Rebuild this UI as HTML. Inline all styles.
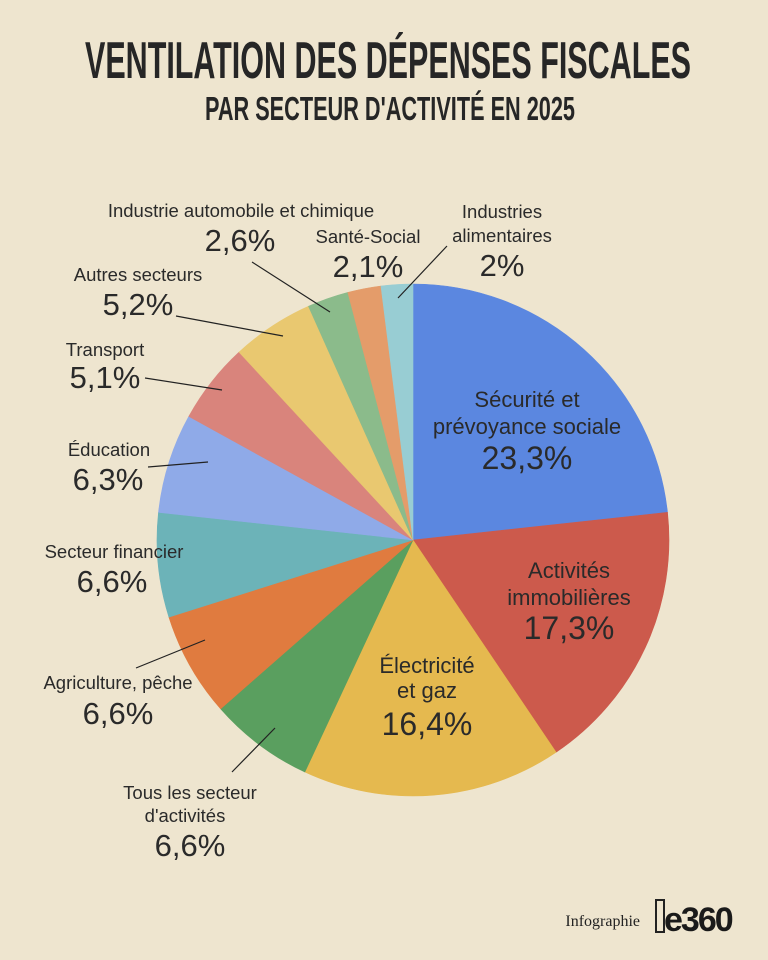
<!DOCTYPE html>
<html><head><meta charset="utf-8"><style>
body{margin:0;width:768px;height:960px;background:#eee5cf;overflow:hidden;font-family:"Liberation Sans",sans-serif;color:#222}
svg{position:absolute;left:0;top:0}
</style></head><body>
<svg width="768" height="960" viewBox="0 0 768 960" id="s">
<text x="388" y="78" text-anchor="middle" font-family="Liberation Sans Narrow, Liberation Sans, sans-serif" font-weight="bold" font-size="52" fill="#262626" textLength="606" lengthAdjust="spacingAndGlyphs">VENTILATION DES DÉPENSES FISCALES</text>
<text x="390" y="120" text-anchor="middle" font-family="Liberation Sans Narrow, Liberation Sans, sans-serif" font-weight="bold" font-size="33" fill="#262626" textLength="370" lengthAdjust="spacingAndGlyphs">PAR SECTEUR D'ACTIVITÉ EN 2025</text>
<g id="pie"></g>
<g stroke="#222" stroke-width="1.2">
<line x1="252" y1="262" x2="330" y2="312"/>
<line x1="398" y1="298" x2="447" y2="246"/>
<line x1="176" y1="316" x2="283" y2="336"/>
<line x1="145" y1="378" x2="222" y2="390"/>
<line x1="148" y1="467" x2="208" y2="462"/>
<line x1="136" y1="668" x2="205" y2="640"/>
<line x1="232" y1="772" x2="275" y2="728"/>
</g>
<g text-anchor="middle" fill="#2a2a2a" font-size="18.5">
<text x="241" y="217">Industrie automobile et chimique</text>
<text x="240" y="251" font-size="31">2,6%</text>
<text x="368" y="243">Santé-Social</text>
<text x="368" y="277" font-size="31">2,1%</text>
<text x="502" y="218">Industries</text>
<text x="502" y="242">alimentaires</text>
<text x="502" y="276" font-size="31">2%</text>
<text x="138" y="281">Autres secteurs</text>
<text x="138" y="315" font-size="31">5,2%</text>
<text x="105" y="356">Transport</text>
<text x="105" y="388" font-size="31">5,1%</text>
<text x="109" y="456">Éducation</text>
<text x="108" y="490" font-size="31">6,3%</text>
<text x="114" y="558">Secteur financier</text>
<text x="112" y="592" font-size="31">6,6%</text>
<text x="118" y="689">Agriculture, pêche</text>
<text x="118" y="724" font-size="31">6,6%</text>
<text x="190" y="799">Tous les secteur</text>
<text x="185" y="822">d'activités</text>
<text x="190" y="856" font-size="31">6,6%</text>
<text x="527" y="407" font-size="22">Sécurité et</text>
<text x="527" y="434" font-size="22">prévoyance sociale</text>
<text x="527" y="469" font-size="32">23,3%</text>
<text x="569" y="578" font-size="22">Activités</text>
<text x="569" y="605" font-size="22">immobilières</text>
<text x="569" y="639" font-size="32">17,3%</text>
<text x="427" y="673" font-size="22">Électricité</text>
<text x="427" y="698" font-size="22">et gaz</text>
<text x="427" y="735" font-size="32">16,4%</text>
</g>
<text x="640" y="926" text-anchor="end" font-family="Liberation Serif, serif" font-size="16" fill="#222">Infographie</text>
<rect x="656" y="900" width="8" height="32" fill="none" stroke="#222" stroke-width="2"/>
<text x="664" y="931" font-family="Liberation Sans, sans-serif" font-weight="bold" font-size="34" fill="#1a1a1a" letter-spacing="-2">e360</text>
</svg>
<script>
var d=[[23.3,"#5b87e0"],[17.3,"#cc5a4c"],[16.4,"#e5b94f"],[6.6,"#5a9f5f"],[6.6,"#e07b3f"],[6.6,"#6cb3b8"],[6.3,"#8faae8"],[5.1,"#d9847c"],[5.2,"#e9c870"],[2.6,"#8bbb8b"],[2.1,"#e49c6a"],[2,"#98cdd3"]];
var tot=0;d.forEach(function(e){tot+=e[0]});
var cx=413,cy=540,r=256,a=-Math.PI/2,h="";
d.forEach(function(e){var b=a+e[0]/tot*2*Math.PI;
var x1=cx+r*Math.cos(a),y1=cy+r*Math.sin(a),x2=cx+r*Math.cos(b),y2=cy+r*Math.sin(b);
h+='<path d="M'+cx+','+cy+'L'+x1+','+y1+'A'+r+','+r+' 0 '+((b-a)>Math.PI?1:0)+' 1 '+x2+','+y2+'Z" fill="'+e[1]+'" stroke="'+e[1]+'" stroke-width="0.6"/>';a=b;});
document.getElementById("pie").innerHTML=h;
</script>
</body></html>
